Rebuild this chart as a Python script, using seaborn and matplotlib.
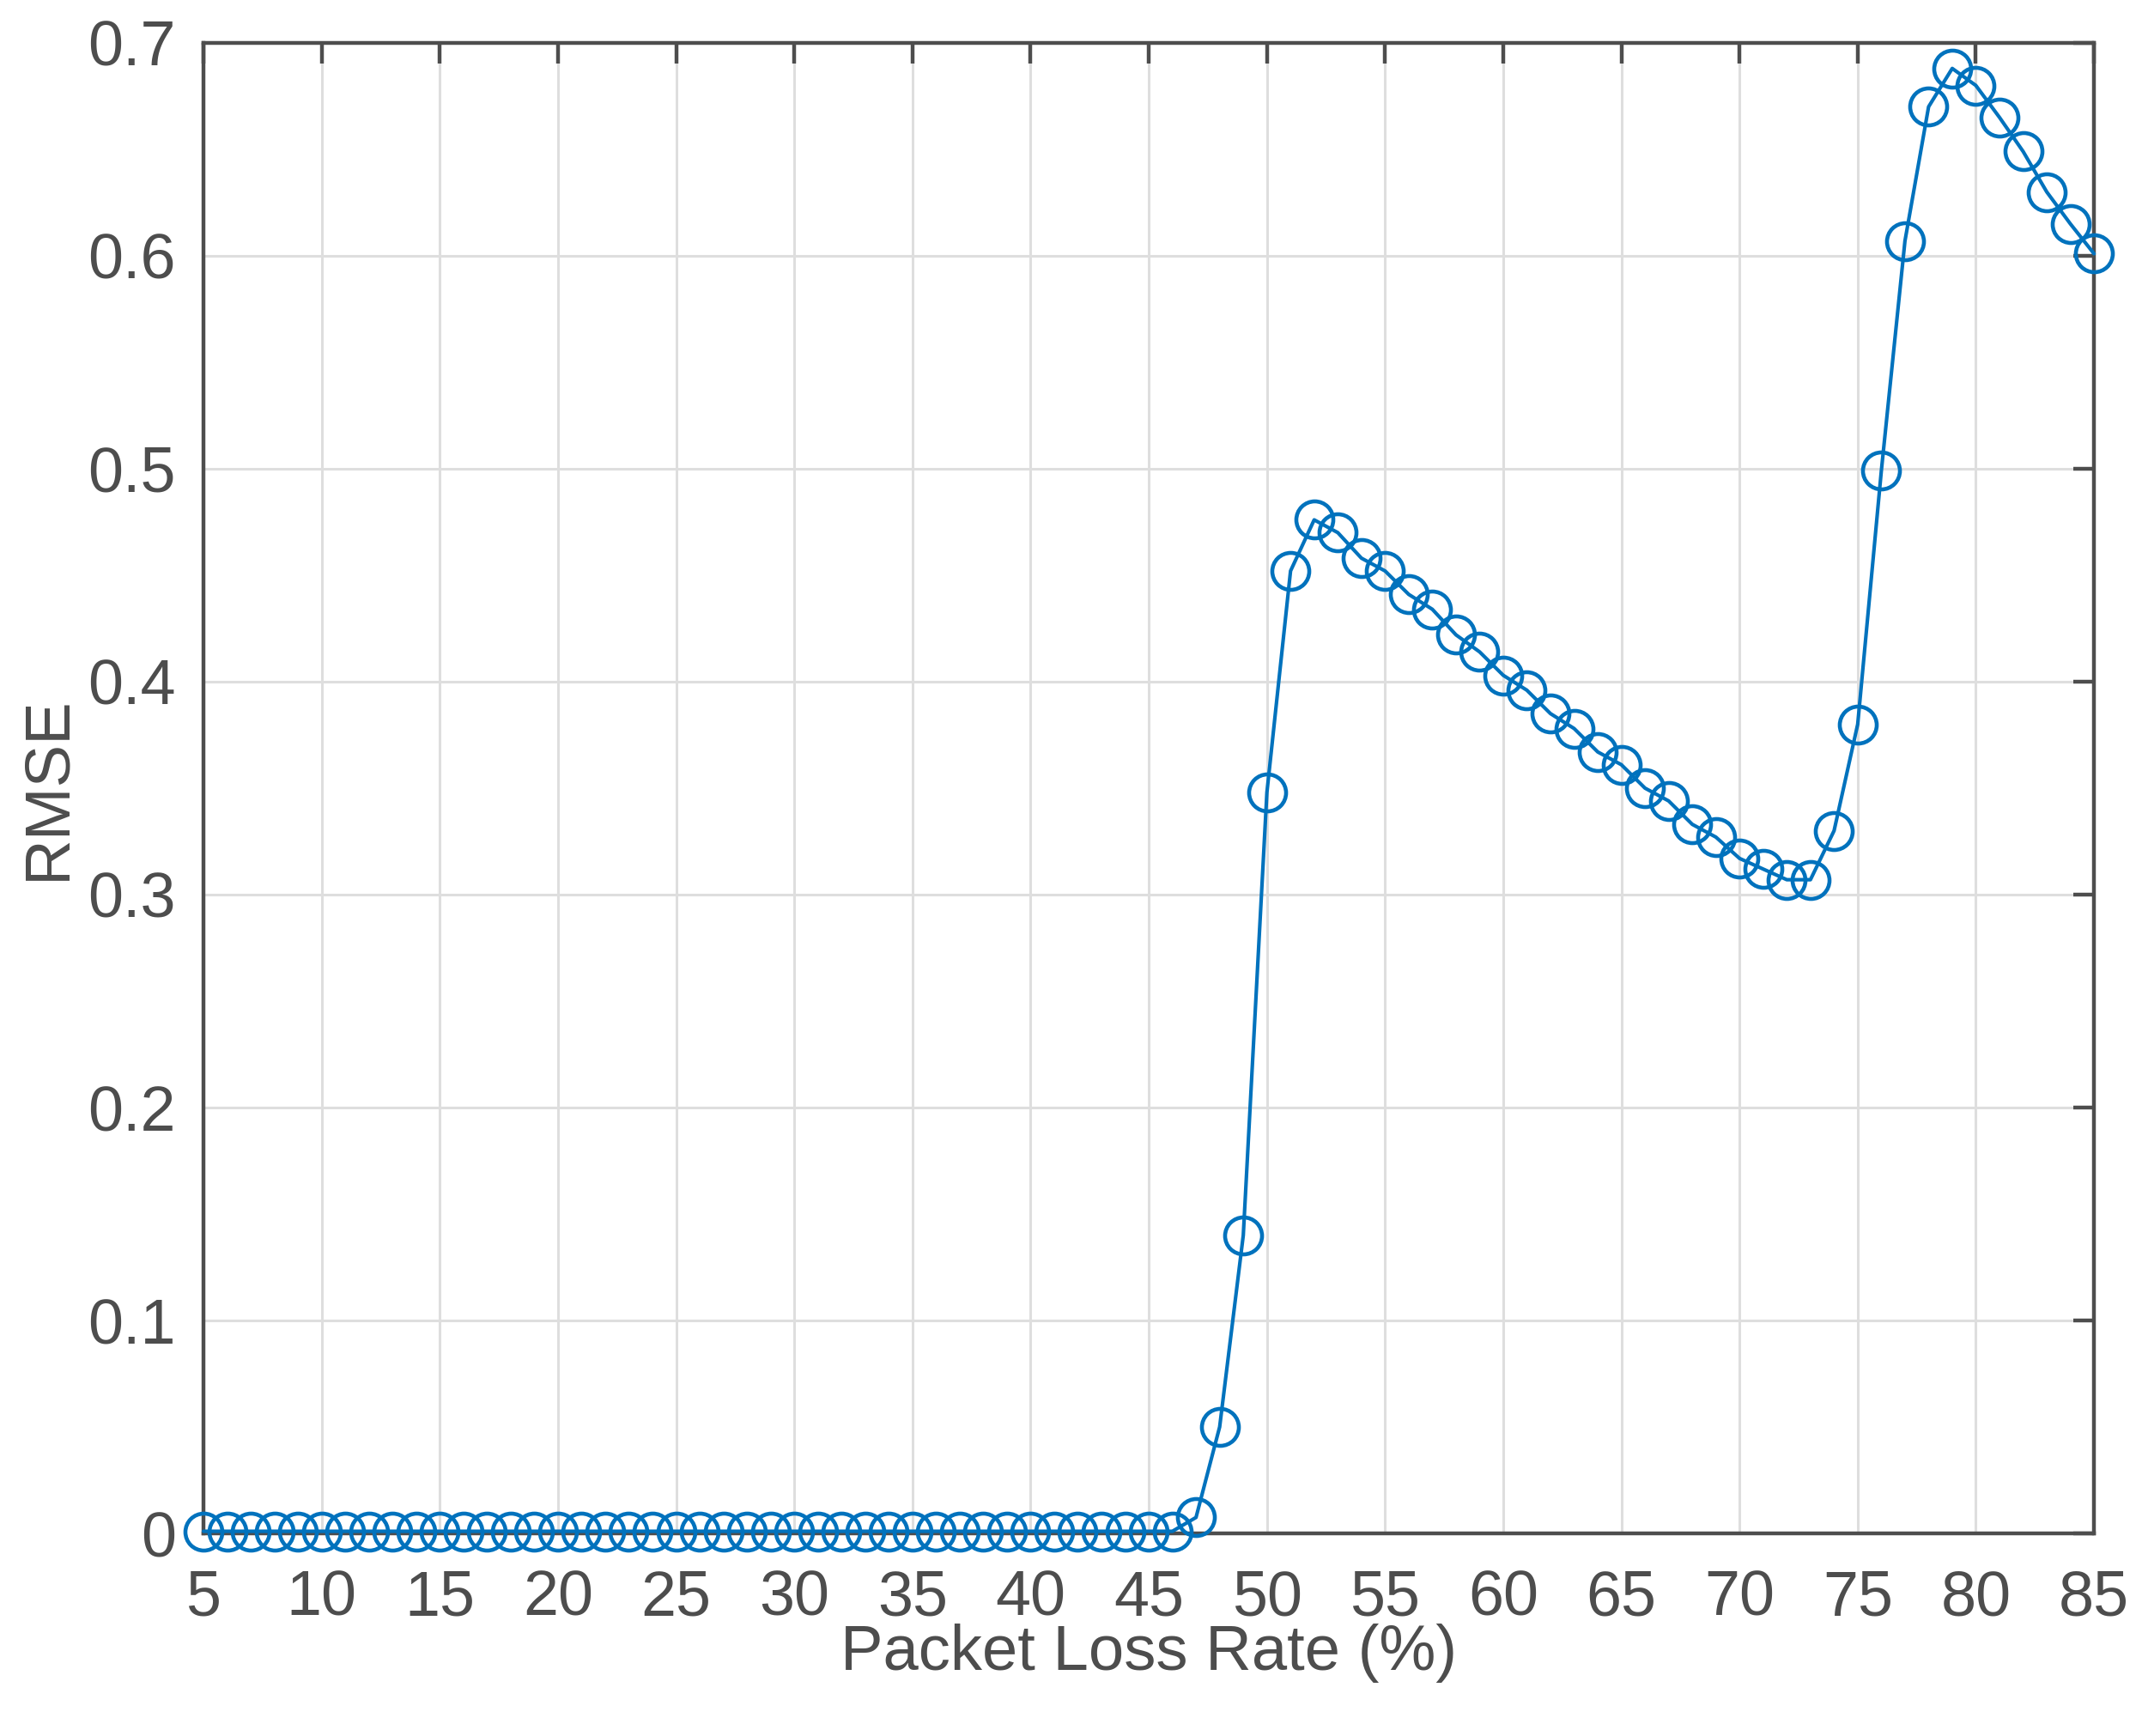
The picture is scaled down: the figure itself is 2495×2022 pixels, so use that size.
import matplotlib
matplotlib.use('Agg')
import matplotlib.pyplot as plt
import pandas as pd
import seaborn as sns

# packet loss rate (%) and RMSE
loss_rate = list(range(5, 86))
rmse_low = [0.001] * 42  # 5..46 all sit on zero
rmse_high = [0.0075, 0.050, 0.140, 0.348, 0.452, 0.476, 0.470, 0.458, 0.452, 0.441,
             0.434, 0.422, 0.414, 0.403, 0.396, 0.385, 0.378, 0.367, 0.361, 0.350,
             0.344, 0.333, 0.327, 0.317, 0.312, 0.307, 0.307, 0.330, 0.380, 0.499,
             0.607, 0.670, 0.688, 0.680, 0.665, 0.649, 0.630, 0.615, 0.601]
rmse = rmse_low + rmse_high
xticks = list(range(5, 86, 5))
yticks = [0, 0.1, 0.2, 0.3, 0.4, 0.5, 0.6, 0.7]

df = pd.DataFrame({'loss': loss_rate, 'rmse': rmse})

sns.set_style('white')
plt.rcParams['font.family'] = ['Liberation Sans', 'DejaVu Sans']
axcol = '#4d4d4d'

fig = plt.figure(figsize=(24.95, 20.22), dpi=100)
ax = fig.add_axes([0.095, 0.1167, 0.8826, 0.8586])

sns.lineplot(data=df, x='loss', y='rmse', ax=ax, color='#0072BD', linewidth=3,
             marker='o', markersize=31, markerfacecolor='none',
             markeredgecolor='#0072BD', markeredgewidth=3.3, zorder=3)
# markers on the box edges are drawn whole, as in matlab
for ln in ax.lines:
    ln.set_clip_on(False)

ax.set_xlim(5, 85)
ax.set_ylim(0, 0.7)
ax.set_xticks(xticks)
ax.set_yticks(yticks)
ax.set_yticklabels(['0', '0.1', '0.2', '0.3', '0.4', '0.5', '0.6', '0.7'])
ax.grid(True, color='#dedede', linewidth=2.2)
ax.set_axisbelow(True)
for s in ax.spines.values():
    s.set_color(axcol)
    s.set_linewidth(3.2)
ax.tick_params(direction='in', length=17, width=3.2, color=axcol, labelcolor=axcol,
               labelsize=53, top=True, right=True)
ax.tick_params(axis='x', pad=30)
ax.tick_params(axis='y', pad=23)
ax.set_xlabel('Packet Loss Rate (%)', fontsize=53.5, color=axcol, labelpad=-4)
ax.set_ylabel('RMSE', fontsize=53.5, color=axcol, labelpad=9)

fig.savefig('out.png', dpi=100)
